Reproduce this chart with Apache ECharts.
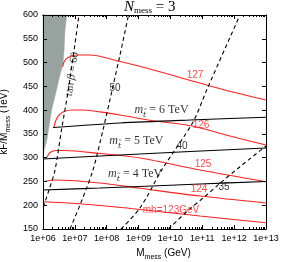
<!DOCTYPE html>
<html><head><meta charset="utf-8">
<script src="https://cdn.jsdelivr.net/npm/echarts@6/dist/echarts.min.js"></script>
<style>html,body{margin:0;padding:0;background:#fff}#c{width:281px;height:262px}</style>
</head><body><div id="c"></div>
<script>
// x values are log10(M_mess / GeV)
const xMajorExponents = [6, 7, 8, 9, 10, 11, 12, 13];
const xMinorMultipliers = [2, 3, 4, 5, 6, 7, 8, 9];
const yTickMin = 150, yTickMax = 600, yTickStep = 50;

// excluded (gray) region boundary
const grayBoundary = [[6.0,600],[6.744,600],[6.69,568.5],[6.66,526],[6.62,494.8],[6.53,473.8],[6.42,442],[6.27,400],[6.17,358],[6.12,337],[6.03,316],[6.0,299]];

// Higgs mass contours
const mh127 = [[6.618,491.3],[6.659,501.1],[6.722,507.4],[6.847,512.7],[7.099,515.9],[7.475,515.9],[8.417,502.2],[9.359,486.4],[10.771,459.7],[11.65,443.3],[13,421.2]];
const mh126 = [[6.345,364.5],[6.408,379.2],[6.502,389.7],[6.659,397.1],[6.91,400.2],[7.224,400.2],[7.789,396.2],[8.417,389.7],[9.515,377.1],[10.614,367.6],[11.869,345.5],[13,326.6]];
const mh125 = [[6.126,301.4],[6.22,310.8],[6.408,315.1],[6.69,315.1],[7.789,308.7],[9.045,299.3],[10.928,274.1],[13,249.5]];
const mh124 = [[6,249.5],[6.377,253],[6.847,252],[7.789,246.7],[9.045,235.6],[10.928,219.4],[13,204.7]];
const mh123 = [[6,207.4],[6.534,205.7],[7.789,199.4],[9.045,191.0],[10.928,177.3],[13,163.2]];

// tan beta contours
const tanb60 = [[6.01,196.3],[6.188,232],[6.377,274],[6.58,358.2],[6.794,442.3],[7.13,600]];
const tanb50 = [[6.847,150],[7.224,211],[7.569,274.1],[7.883,358.2],[8.134,431.7],[8.417,515.9],[8.684,600]];
const tanb40 = [[8.448,150],[9.045,194.2],[9.726,274],[10.708,375],[11.138,442.3],[12.183,600]];
const tanb35 = [[9.94,150],[10.51,186.4],[11.138,221.5],[11.556,246.1],[12.183,281],[13,324.5]];

// stop mass contours
const mstop6 = [[6.314,363.4],[8.417,372.9],[10.614,379.2],[13,384.9]];
const mstop5 = [[6,297.2],[7.789,303.5],[9.045,307.7],[10.614,313],[13,320.3]];
const mstop4 = [[6,232],[7.789,236.2],[9.045,239.4],[10.928,244.6],[13,249.9]];

// labels
const mhLabelText = ['127','126','125','124','mh=123GeV'];
const mhLabelPos = [[10.771,472.5],[10.96,368],[11.022,285.5],[10.896,234.5],[10.018,190]];
const tanbLabelText = ['50','40','35'];
const tanbLabelPos = [[8.26,446.5],[10.363,324.5],[11.681,238.3]];
const tanb60LabelPos = [6.91,475.9];
const mstopLabelText = ['6','5','4'];
const mstopLabelPos = [[9.72,398.1],[8.93,332.9],[8.89,263.5]];

const xMinorTicks = [];
xMajorExponents.slice(0, -1).forEach(n => xMinorMultipliers.forEach(k => xMinorTicks.push(n + Math.log10(k))));

const SERIF = 'Liberation Serif, DejaVu Serif, serif';
const SANS = 'Liberation Sans, Arial, sans-serif';
const RED = '#ff2020';

function xAx(pos, minor, labels) {
  return {
    type: 'value', min: 6, max: 13, interval: 1, position: pos, gridIndex: 0, z: 10,
    axisLine: { show: true, onZero: false, lineStyle: { color: '#000', width: 1 } },
    axisTick: minor ? { show: true, inside: true, length: 2, customValues: xMinorTicks, lineStyle: { color: '#000' } }
                    : { show: true, inside: true, length: 4, lineStyle: { color: '#000' } },
    axisLabel: labels ? { show: true, fontSize: 9, color: '#000', fontFamily: SANS, margin: 5,
      formatter: v => '1e+' + (v < 10 ? '0' : '') + v } : { show: false },
    splitLine: { show: false }
  };
}
function yAx(pos, labels) {
  return {
    type: 'value', min: yTickMin, max: yTickMax, interval: yTickStep, position: pos, z: 10,
    axisLine: { show: true, onZero: false, lineStyle: { color: '#000', width: 1 } },
    axisTick: { show: true, inside: true, length: 4, lineStyle: { color: '#000' } },
    axisLabel: labels ? { show: true, fontSize: 9, color: '#000', fontFamily: SANS, margin: 5 } : { show: false },
    splitLine: { show: false }
  };
}

const xAxes = [xAx('bottom', false, true), xAx('bottom', true, false), xAx('top', false, false), xAx('top', true, false)];
xAxes[0].name = '{a|M}{s|mess}{a| (GeV)}';
xAxes[0].nameLocation = 'middle';
xAxes[0].nameGap = 16;
xAxes[0].nameTextStyle = { padding: [0, 0, 0, 18], rich: {
  a: { fontSize: 10, fontFamily: SANS, color: '#000', lineHeight: 13, verticalAlign: 'top' },
  s: { fontSize: 7, fontFamily: SANS, color: '#000', lineHeight: 13, verticalAlign: 'bottom', padding: [4, 0, 0, 0] } } };
const yAxes = [yAx('left', true), yAx('right', false)];
yAxes[0].name = '{a|kF/M}{s|mess}{a| (TeV)}';
yAxes[0].nameLocation = 'middle';
yAxes[0].nameRotate = 90;
yAxes[0].nameGap = 31;
yAxes[0].nameTextStyle = { rich: {
  a: { fontSize: 10, fontFamily: SANS, color: '#000', lineHeight: 13, verticalAlign: 'top' },
  s: { fontSize: 7, fontFamily: SANS, color: '#000', lineHeight: 13, verticalAlign: 'bottom', padding: [4, 0, 0, 0] } } };

function line(data, color, dashed) {
  return { type: 'line', data: data, xAxisIndex: 0, yAxisIndex: 0, symbol: 'none', smooth: 0.3, silent: true, z: 3,
    lineStyle: { color: color, width: 1.1, type: dashed ? [4, 3] : 'solid' } };
}

const option = {
  animation: false,
  backgroundColor: '#fff',
  title: {
    text: '{n|N}{s|mess}{e| = 3}', left: 124, top: 0, padding: 0,
    textStyle: { fontWeight: 'normal', rich: {
      n: { fontSize: 15, fontStyle: 'italic', fontWeight: 'normal', fontFamily: SERIF, color: '#000', lineHeight: 15, verticalAlign: 'top' },
      s: { fontSize: 9, fontWeight: 'normal', fontFamily: SERIF, color: '#000', lineHeight: 15, verticalAlign: 'bottom', padding: [4, 0, 0, 0] },
      e: { fontSize: 15, fontWeight: 'normal', fontFamily: SERIF, color: '#000', lineHeight: 15, verticalAlign: 'top' } } }
  },
  grid: { left: 43, right: 15, top: 15, bottom: 33, containLabel: false, outerBoundsMode: 'none' },
  xAxis: xAxes,
  yAxis: yAxes,
  series: [
    { type: 'custom', xAxisIndex: 0, yAxisIndex: 0, z: 1, silent: true, data: [grayBoundary[0]],
      renderItem: (params, api) => ({ type: 'polygon', shape: { points: grayBoundary.map(p => api.coord(p)) },
        style: { fill: '#98a29e', stroke: '#98a29e', lineWidth: 0.5 } }) },
    line(mh127, RED), line(mh126, RED), line(mh125, RED), line(mh124, RED), line(mh123, RED),
    line(mstop6, '#000'), line(mstop5, '#000'), line(mstop4, '#000'),
    line(tanb60, '#000', true), line(tanb50, '#000', true), line(tanb40, '#000', true), line(tanb35, '#000', true),
    { type: 'scatter', symbolSize: 0, silent: true, z: 6,
      data: mhLabelPos.map((p, i) => ({ value: p, label: { formatter: mhLabelText[i] } })),
      label: { show: true, position: 'inside', color: RED, fontSize: 10, fontFamily: SANS } },
    { type: 'scatter', symbolSize: 0, silent: true, z: 6,
      data: tanbLabelPos.map((p, i) => ({ value: p, label: { formatter: tanbLabelText[i] } })),
      label: { show: true, position: 'inside', color: '#000', fontSize: 10, fontFamily: SANS } },
    { type: 'scatter', symbolSize: 0, silent: true, z: 6,
      data: [{ value: tanb60LabelPos }],
      label: { show: true, position: 'inside', rotate: 82, formatter: '{r|tan }{i|β}{r| = 60}',
        rich: { r: { fontSize: 11, fontFamily: SERIF, color: '#000' }, i: { fontSize: 11, fontStyle: 'italic', fontFamily: SERIF, color: '#000' } } } },
    { type: 'scatter', symbolSize: 0, silent: true, z: 6,
      data: mstopLabelPos.map((p, i) => ({ value: p, label: { formatter: '{m|m}{s|t\u0303}{r| = ' + mstopLabelText[i] + ' TeV}' } })),
      label: { show: true, position: 'inside',
        rich: {
          m: { fontSize: 12, fontStyle: 'italic', fontFamily: SERIF, color: '#000', lineHeight: 15, verticalAlign: 'top' },
          s: { fontSize: 8, fontStyle: 'italic', fontFamily: 'DejaVu Serif, serif', color: '#000', lineHeight: 15, verticalAlign: 'bottom', padding: [3, 0, 0, 0] },
          r: { fontSize: 12, fontFamily: SERIF, color: '#000', lineHeight: 15, verticalAlign: 'top' } } } }
  ]
};

const chart = echarts.init(document.getElementById('c'), null, { renderer: 'canvas' });
chart.setOption(option);
</script>
</body></html>
